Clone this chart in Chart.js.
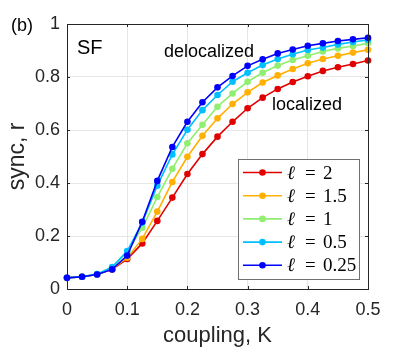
<!DOCTYPE html>
<html>
<head>
<meta charset="utf-8">
<script src="https://cdn.jsdelivr.net/npm/chart.js@4/dist/chart.umd.min.js"></script>
<style>
  body { margin: 0; background: #fff; }
  #wrap { width: 407px; height: 349px; }
</style>
</head>
<body>
<div id="wrap"><canvas id="myChart"></canvas></div>
<script>
// coupling K values (x)
const kValues = [0, 0.025, 0.05, 0.075, 0.1, 0.125, 0.15, 0.175, 0.2, 0.225, 0.25,
  0.275, 0.3, 0.325, 0.35, 0.375, 0.4, 0.425, 0.45, 0.475, 0.5]

// sync r for each ell
const ell2 = [0.042, 0.046, 0.055, 0.074, 0.113, 0.172, 0.257, 0.345, 0.434, 0.509, 0.575,
  0.631, 0.682, 0.722, 0.755, 0.781, 0.803, 0.823, 0.837, 0.849, 0.862]
const ell15 = [0.042, 0.046, 0.055, 0.076, 0.118, 0.189, 0.292, 0.404, 0.499, 0.578, 0.644,
  0.698, 0.742, 0.779, 0.806, 0.830, 0.852, 0.868, 0.880, 0.892, 0.903]
const ell1 = [0.042, 0.046, 0.056, 0.082, 0.140, 0.231, 0.347, 0.454, 0.550, 0.620, 0.688,
  0.738, 0.782, 0.816, 0.843, 0.864, 0.880, 0.896, 0.908, 0.917, 0.927]
const ell05 = [0.042, 0.046, 0.056, 0.083, 0.143, 0.250, 0.390, 0.508, 0.601, 0.675, 0.732,
  0.782, 0.816, 0.845, 0.868, 0.886, 0.902, 0.911, 0.923, 0.932, 0.940]
const ell025 = [0.042, 0.046, 0.055, 0.074, 0.126, 0.254, 0.408, 0.536, 0.631, 0.705, 0.761,
  0.804, 0.842, 0.867, 0.889, 0.904, 0.918, 0.927, 0.936, 0.942, 0.948]

// legend labels (value of ell) and colours
const ellLabels = ['2', '1.5', '1', '0.5', '0.25']
const seriesList = [ell2, ell15, ell1, ell05, ell025]
const colors = ['#e00000', '#ffb000', '#90ee70', '#00bfff', '#0000ff']

// tick values and labels
const xTicks = [0, 0.1, 0.2, 0.3, 0.4, 0.5]
const xTickLabels = ['0', '0.1', '0.2', '0.3', '0.4', '0.5']
const yTicks = [0, 0.2, 0.4, 0.6, 0.8, 1]
const yTickLabels = ['0', '0.2', '0.4', '0.6', '0.8', '1']

const sans = '"Liberation Sans", Arial, sans-serif'
const axisColor = '#262626'

// build datasets
let datasets = seriesList.map(function(s, i) {
  return {
    label: 'ℓ = ' + ellLabels[i],
    data: kValues.map(function(k, j) { return { x: k, y: s[j] } }),
    borderColor: colors[i],
    backgroundColor: colors[i],
    borderWidth: 1.6,
    pointRadius: 3.3,
    pointBorderWidth: 0,
    pointHoverRadius: 3.3,
    fill: false,
    tension: 0,
    clip: false,
    order: seriesList.length - 1 - i
  }
})

// frame, inward ticks, text labels and legend box
const extras = {
  id: 'extras',
  afterDatasetsDraw(chart) {
    let ctx = chart.ctx
    let a = chart.chartArea
    let xs = chart.scales.x
    let ys = chart.scales.y
    ctx.save()
    ctx.strokeStyle = axisColor
    ctx.lineWidth = 1
    ctx.strokeRect(Math.round(a.left) + 0.5, Math.round(a.top) + 0.5,
      Math.round(a.right - a.left), Math.round(a.bottom - a.top))
    ctx.beginPath()
    xTicks.forEach(function(t) {
      let px = Math.round(xs.getPixelForValue(t)) + 0.5
      ctx.moveTo(px, a.bottom); ctx.lineTo(px, a.bottom - 3)
      ctx.moveTo(px, a.top); ctx.lineTo(px, a.top + 3)
    })
    yTicks.forEach(function(t) {
      let py = Math.round(ys.getPixelForValue(t)) + 0.5
      ctx.moveTo(a.left, py); ctx.lineTo(a.left + 3, py)
      ctx.moveTo(a.right, py); ctx.lineTo(a.right - 3, py)
    })
    ctx.stroke()

    // text
    ctx.fillStyle = '#000'
    ctx.textBaseline = 'alphabetic'
    ctx.textAlign = 'left'
    ctx.font = '18px ' + sans
    ctx.fillText('(b)', 11, 31)
    ctx.font = '20px ' + sans
    ctx.fillText('SF', 77, 54)
    ctx.font = '18px ' + sans
    ctx.fillText('delocalized', 164, 57)
    ctx.fillText('localized', 272, 110)

    // legend
    let lx = 238, ly = 159, lw = 121, lh = 120
    ctx.fillStyle = '#fff'
    ctx.fillRect(lx, ly, lw, lh)
    ctx.strokeStyle = '#707070'
    ctx.strokeRect(lx + 0.5, ly + 0.5, lw, lh)
    ellLabels.forEach(function(lab, i) {
      let y = 172.5 + i * 23.2
      ctx.strokeStyle = colors[i]
      ctx.lineWidth = 1.6
      ctx.beginPath()
      ctx.moveTo(243, y); ctx.lineTo(282, y)
      ctx.stroke()
      ctx.fillStyle = colors[i]
      ctx.beginPath()
      ctx.arc(262.5, y, 3.3, 0, Math.PI * 2)
      ctx.fill()
      ctx.fillStyle = '#000'
      ctx.font = 'italic 19px "Liberation Serif", "DejaVu Serif", serif'
      ctx.fillText('ℓ', 287, y + 6)
      ctx.font = '19px "Liberation Serif", "DejaVu Serif", serif'
      ctx.fillText('=', 305, y + 6)
      ctx.fillText(lab, 323, y + 6)
    })
    ctx.restore()
  }
}

new Chart(document.getElementById('myChart'), {
  type: 'line',
  data: { datasets: datasets },
  plugins: [extras],
  options: {
    responsive: true,
    maintainAspectRatio: false,
    animation: false,
    layout: { padding: { top: 24, right: 39, left: 0, bottom: 0 } },
    plugins: { legend: { display: false }, tooltip: { enabled: false } },
    scales: {
      x: {
        type: 'linear',
        min: 0,
        max: 0.5,
        afterFit: function(scale) { scale.height = 60 },
        afterBuildTicks: function(scale) { scale.ticks = xTicks.map(function(v) { return { value: v } }) },
        ticks: {
          font: { size: 18, family: sans }, color: axisColor, padding: 10, maxRotation: 0,
          callback: function(v) { return xTickLabels[xTicks.indexOf(v)] }
        },
        grid: { color: '#e6e6e6', drawTicks: false },
        border: { display: false },
        title: { display: true, text: 'coupling, K', font: { size: 22, family: sans }, color: '#262626', padding: 0 }
      },
      y: {
        min: 0,
        max: 1,
        afterFit: function(scale) { scale.width = 67 },
        afterBuildTicks: function(scale) { scale.ticks = yTicks.map(function(v) { return { value: v } }) },
        ticks: {
          font: { size: 18, family: sans }, color: axisColor, padding: 7,
          callback: function(v) { return yTickLabels[yTicks.indexOf(v)] }
        },
        grid: { color: '#e6e6e6', drawTicks: false },
        border: { display: false },
        title: { display: true, text: 'sync, r', font: { size: 23, family: sans }, color: '#262626', padding: { top: 4, bottom: 0 } }
      }
    }
  }
})
</script>
</body>
</html>
